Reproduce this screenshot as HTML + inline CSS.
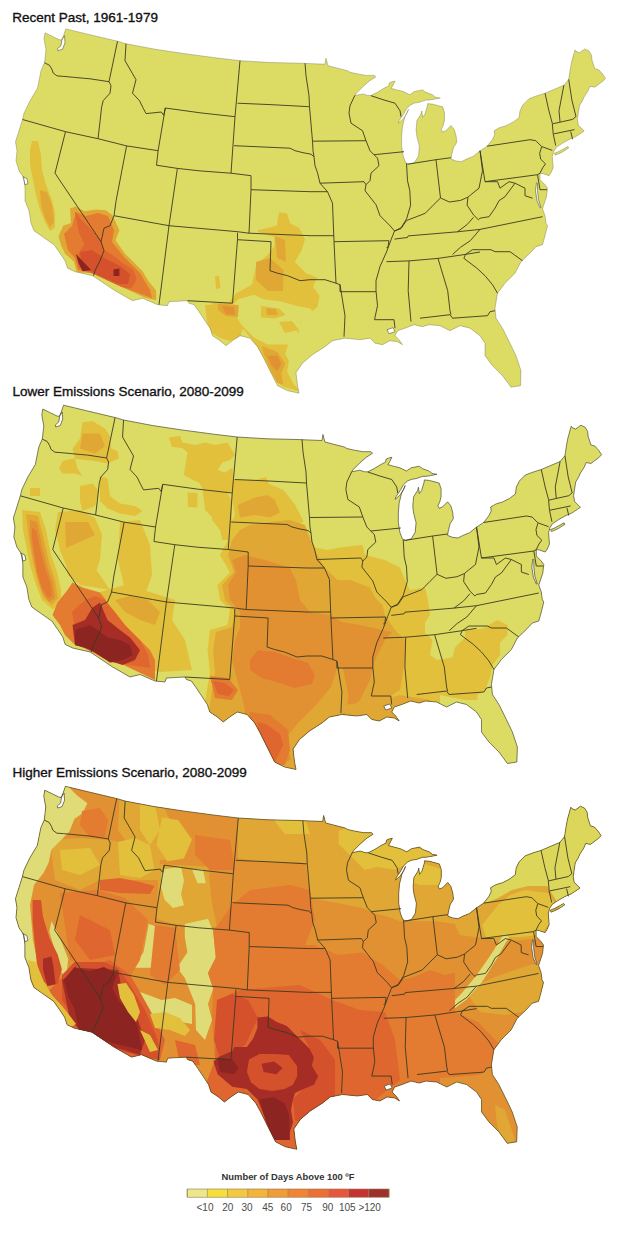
<!DOCTYPE html>
<html><head><meta charset="utf-8"><style>
html,body{margin:0;padding:0;background:#fff;}
body{width:620px;height:1239px;overflow:hidden;position:relative;}
svg{position:absolute;left:0;top:0;}
.t{font-family:"Liberation Sans",sans-serif;font-size:13.5px;fill:#111;stroke:#111;stroke-width:0.35px;}
.l{font-family:"Liberation Sans",sans-serif;font-size:10px;fill:#4a4a4a;}
</style></head><body>
<svg width="620" height="1239" viewBox="0 0 620 1239">
<defs><clipPath id="clip0"><path transform="translate(0,0.7)" d="M45,32.1 52,35.5 59,38.9 61.5,39.4 63.5,35 65.8,28.2 90,34 117.5,40.5 126,43 155,48.5 185,53 215,57 240,60 270,61.8 300,62.5 325,63.5 326,57.5 328,65 347.5,70 350,71.5 356.5,73 366,74.7 374.2,74.7 375.8,76.3 369.4,80.3 362.9,86 356.5,92.4 354.8,94.8 362.9,93.2 367.7,94.8 371,94.8 377.4,91.6 383.9,87.6 388.7,85.2 389.5,82 392,81 395.2,80.3 392.7,85.2 391.1,87.6 396.8,89.2 403.2,90.8 409.7,94 414.5,90.8 422.6,89.2 425.8,91.6 432.3,94 435.5,96.5 440.3,97.3 433.9,98.6 429,99.4 425.8,99.4 419.4,101.6 414.5,102.4 410.5,104.2 406.5,108 404,112.6 399.2,119.8 398.4,122.3 403.2,118.2 407.3,111.8 408.5,108.5 404.8,116.6 402.4,126.3 401.6,136 401.6,145.6 403.2,155.3 405.6,161.8 408.9,163.4 414.5,161.8 418.5,155.3 419.4,145.6 416.9,136 416.1,129.5 416.9,119.8 421,113.4 421.8,110.2 422.6,116.6 425,113.4 427.4,105.3 427.7,102.9 432.9,103.5 442.6,106.1 444.5,111.9 444.5,119.7 443.2,124.8 441.3,128.7 442.6,131.3 445.8,130 451,124.8 454.2,128.7 456.1,135.2 456.8,141.6 453.5,146.8 451.6,154.5 451,158.4 456.1,160.3 461.3,161 466.5,158.4 472.9,155.8 479.4,150.6 487.1,145.5 492.3,139 494.8,133.9 494.2,130 498.7,127.4 500,126.8 506,125 513,121.5 519,117 520,110 523,104 529,98 537,95 545,92.5 563.9,84.5 568.7,78.7 570.2,69 571.6,61.3 575,49.2 576,50.6 579.4,52.1 584.7,48.2 589,50.2 591.5,54.5 592,59.4 593.9,65.2 594.8,68 598.7,69 602.6,73.4 605.5,77.7 602.6,80.7 598.7,83.6 594.8,86.5 590,85.5 588,90.3 584.2,96.1 582.5,100 579.5,105 578.4,111.9 577.4,118.7 578.4,124.5 582.3,128.4 584.2,130.3 581.3,132.3 578.4,134.2 575.5,136.1 568.7,139 561.9,142.9 556.1,146.8 553.7,150.7 552.3,155.5 552.7,161.3 553.2,167 551,172 549,175 543,173 540,172.5 540,179 545,184 547.5,187.5 546.5,196 543.5,205 542.5,208 545,215 546,222.5 547.5,225 545,235 542.5,244 536,246 530,252.5 521,261 515,272.5 505,282.5 497.5,292.5 495,307.5 496,317.5 502.5,327.5 510,342.5 516,355 521,370 520.5,385 511,386.5 502.5,375 492.5,365 485,355 485,342.5 480,335 470,327.5 460,325 450,330 440,325 429,324 422.5,326 414,324 405,327.5 397.5,330 395,335 399,339 402.5,344 397.5,341 390,340 382.5,344 375,342.5 370,337.5 360,339 345,337.5 332.5,340 325,346 312.5,354 302.5,362.5 296,372 297.5,385 299,392.5 287.5,390 277.5,385 270,370 262.5,355 257.5,346 250,337.5 240,335 232.5,340 226,345 220,340 212.5,335 210,327.5 205,320 199,311 194,304 189,302.5 187.5,300 169,301 167.5,305 157.5,304 142.5,297.5 132.5,300 115,290 100,280 92.5,275 75,271 67.5,267.5 65,260 60,252.5 54,244 42.5,236 34,230 31,222.5 29,210 25,200 25,187.5 24,177.5 19,170 16,160 17,150 15.5,141 19,130 22.5,118.8 24,112.5 30,100 37.5,87.5 41,70 44.5,62 46,49 44,38ZM554.2,152.6 559,150.7 567.8,145.8 568.7,147.3 562,151.6 555.2,154.5Z"/></clipPath>
<clipPath id="clip1"><path transform="translate(-2.07,377.0) scale(0.997,1)" d="M45,32.1 52,35.5 59,38.9 61.5,39.4 63.5,35 65.8,28.2 90,34 117.5,40.5 126,43 155,48.5 185,53 215,57 240,60 270,61.8 300,62.5 325,63.5 326,57.5 328,65 347.5,70 350,71.5 356.5,73 366,74.7 374.2,74.7 375.8,76.3 369.4,80.3 362.9,86 356.5,92.4 354.8,94.8 362.9,93.2 367.7,94.8 371,94.8 377.4,91.6 383.9,87.6 388.7,85.2 389.5,82 392,81 395.2,80.3 392.7,85.2 391.1,87.6 396.8,89.2 403.2,90.8 409.7,94 414.5,90.8 422.6,89.2 425.8,91.6 432.3,94 435.5,96.5 440.3,97.3 433.9,98.6 429,99.4 425.8,99.4 419.4,101.6 414.5,102.4 410.5,104.2 406.5,108 404,112.6 399.2,119.8 398.4,122.3 403.2,118.2 407.3,111.8 408.5,108.5 404.8,116.6 402.4,126.3 401.6,136 401.6,145.6 403.2,155.3 405.6,161.8 408.9,163.4 414.5,161.8 418.5,155.3 419.4,145.6 416.9,136 416.1,129.5 416.9,119.8 421,113.4 421.8,110.2 422.6,116.6 425,113.4 427.4,105.3 427.7,102.9 432.9,103.5 442.6,106.1 444.5,111.9 444.5,119.7 443.2,124.8 441.3,128.7 442.6,131.3 445.8,130 451,124.8 454.2,128.7 456.1,135.2 456.8,141.6 453.5,146.8 451.6,154.5 451,158.4 456.1,160.3 461.3,161 466.5,158.4 472.9,155.8 479.4,150.6 487.1,145.5 492.3,139 494.8,133.9 494.2,130 498.7,127.4 500,126.8 506,125 513,121.5 519,117 520,110 523,104 529,98 537,95 545,92.5 563.9,84.5 568.7,78.7 570.2,69 571.6,61.3 575,49.2 576,50.6 579.4,52.1 584.7,48.2 589,50.2 591.5,54.5 592,59.4 593.9,65.2 594.8,68 598.7,69 602.6,73.4 605.5,77.7 602.6,80.7 598.7,83.6 594.8,86.5 590,85.5 588,90.3 584.2,96.1 582.5,100 579.5,105 578.4,111.9 577.4,118.7 578.4,124.5 582.3,128.4 584.2,130.3 581.3,132.3 578.4,134.2 575.5,136.1 568.7,139 561.9,142.9 556.1,146.8 553.7,150.7 552.3,155.5 552.7,161.3 553.2,167 551,172 549,175 543,173 540,172.5 540,179 545,184 547.5,187.5 546.5,196 543.5,205 542.5,208 545,215 546,222.5 547.5,225 545,235 542.5,244 536,246 530,252.5 521,261 515,272.5 505,282.5 497.5,292.5 495,307.5 496,317.5 502.5,327.5 510,342.5 516,355 521,370 520.5,385 511,386.5 502.5,375 492.5,365 485,355 485,342.5 480,335 470,327.5 460,325 450,330 440,325 429,324 422.5,326 414,324 405,327.5 397.5,330 395,335 399,339 402.5,344 397.5,341 390,340 382.5,344 375,342.5 370,337.5 360,339 345,337.5 332.5,340 325,346 312.5,354 302.5,362.5 296,372 297.5,385 299,392.5 287.5,390 277.5,385 270,370 262.5,355 257.5,346 250,337.5 240,335 232.5,340 226,345 220,340 212.5,335 210,327.5 205,320 199,311 194,304 189,302.5 187.5,300 169,301 167.5,305 157.5,304 142.5,297.5 132.5,300 115,290 100,280 92.5,275 75,271 67.5,267.5 65,260 60,252.5 54,244 42.5,236 34,230 31,222.5 29,210 25,200 25,187.5 24,177.5 19,170 16,160 17,150 15.5,141 19,130 22.5,118.8 24,112.5 30,100 37.5,87.5 41,70 44.5,62 46,49 44,38ZM554.2,152.6 559,150.7 567.8,145.8 568.7,147.3 562,151.6 555.2,154.5Z"/></clipPath>
<clipPath id="clip2"><path transform="translate(0.08,758.2) scale(0.9926,0.9965)" d="M45,32.1 52,35.5 59,38.9 61.5,39.4 63.5,35 65.8,28.2 90,34 117.5,40.5 126,43 155,48.5 185,53 215,57 240,60 270,61.8 300,62.5 325,63.5 326,57.5 328,65 347.5,70 350,71.5 356.5,73 366,74.7 374.2,74.7 375.8,76.3 369.4,80.3 362.9,86 356.5,92.4 354.8,94.8 362.9,93.2 367.7,94.8 371,94.8 377.4,91.6 383.9,87.6 388.7,85.2 389.5,82 392,81 395.2,80.3 392.7,85.2 391.1,87.6 396.8,89.2 403.2,90.8 409.7,94 414.5,90.8 422.6,89.2 425.8,91.6 432.3,94 435.5,96.5 440.3,97.3 433.9,98.6 429,99.4 425.8,99.4 419.4,101.6 414.5,102.4 410.5,104.2 406.5,108 404,112.6 399.2,119.8 398.4,122.3 403.2,118.2 407.3,111.8 408.5,108.5 404.8,116.6 402.4,126.3 401.6,136 401.6,145.6 403.2,155.3 405.6,161.8 408.9,163.4 414.5,161.8 418.5,155.3 419.4,145.6 416.9,136 416.1,129.5 416.9,119.8 421,113.4 421.8,110.2 422.6,116.6 425,113.4 427.4,105.3 427.7,102.9 432.9,103.5 442.6,106.1 444.5,111.9 444.5,119.7 443.2,124.8 441.3,128.7 442.6,131.3 445.8,130 451,124.8 454.2,128.7 456.1,135.2 456.8,141.6 453.5,146.8 451.6,154.5 451,158.4 456.1,160.3 461.3,161 466.5,158.4 472.9,155.8 479.4,150.6 487.1,145.5 492.3,139 494.8,133.9 494.2,130 498.7,127.4 500,126.8 506,125 513,121.5 519,117 520,110 523,104 529,98 537,95 545,92.5 563.9,84.5 568.7,78.7 570.2,69 571.6,61.3 575,49.2 576,50.6 579.4,52.1 584.7,48.2 589,50.2 591.5,54.5 592,59.4 593.9,65.2 594.8,68 598.7,69 602.6,73.4 605.5,77.7 602.6,80.7 598.7,83.6 594.8,86.5 590,85.5 588,90.3 584.2,96.1 582.5,100 579.5,105 578.4,111.9 577.4,118.7 578.4,124.5 582.3,128.4 584.2,130.3 581.3,132.3 578.4,134.2 575.5,136.1 568.7,139 561.9,142.9 556.1,146.8 553.7,150.7 552.3,155.5 552.7,161.3 553.2,167 551,172 549,175 543,173 540,172.5 540,179 545,184 547.5,187.5 546.5,196 543.5,205 542.5,208 545,215 546,222.5 547.5,225 545,235 542.5,244 536,246 530,252.5 521,261 515,272.5 505,282.5 497.5,292.5 495,307.5 496,317.5 502.5,327.5 510,342.5 516,355 521,370 520.5,385 511,386.5 502.5,375 492.5,365 485,355 485,342.5 480,335 470,327.5 460,325 450,330 440,325 429,324 422.5,326 414,324 405,327.5 397.5,330 395,335 399,339 402.5,344 397.5,341 390,340 382.5,344 375,342.5 370,337.5 360,339 345,337.5 332.5,340 325,346 312.5,354 302.5,362.5 296,372 297.5,385 299,392.5 287.5,390 277.5,385 270,370 262.5,355 257.5,346 250,337.5 240,335 232.5,340 226,345 220,340 212.5,335 210,327.5 205,320 199,311 194,304 189,302.5 187.5,300 169,301 167.5,305 157.5,304 142.5,297.5 132.5,300 115,290 100,280 92.5,275 75,271 67.5,267.5 65,260 60,252.5 54,244 42.5,236 34,230 31,222.5 29,210 25,200 25,187.5 24,177.5 19,170 16,160 17,150 15.5,141 19,130 22.5,118.8 24,112.5 30,100 37.5,87.5 41,70 44.5,62 46,49 44,38ZM554.2,152.6 559,150.7 567.8,145.8 568.7,147.3 562,151.6 555.2,154.5Z"/></clipPath></defs>
<g transform="translate(0,0.7)"><path fill="#dcdb64" d="M45,32.1 52,35.5 59,38.9 61.5,39.4 63.5,35 65.8,28.2 90,34 117.5,40.5 126,43 155,48.5 185,53 215,57 240,60 270,61.8 300,62.5 325,63.5 326,57.5 328,65 347.5,70 350,71.5 356.5,73 366,74.7 374.2,74.7 375.8,76.3 369.4,80.3 362.9,86 356.5,92.4 354.8,94.8 362.9,93.2 367.7,94.8 371,94.8 377.4,91.6 383.9,87.6 388.7,85.2 389.5,82 392,81 395.2,80.3 392.7,85.2 391.1,87.6 396.8,89.2 403.2,90.8 409.7,94 414.5,90.8 422.6,89.2 425.8,91.6 432.3,94 435.5,96.5 440.3,97.3 433.9,98.6 429,99.4 425.8,99.4 419.4,101.6 414.5,102.4 410.5,104.2 406.5,108 404,112.6 399.2,119.8 398.4,122.3 403.2,118.2 407.3,111.8 408.5,108.5 404.8,116.6 402.4,126.3 401.6,136 401.6,145.6 403.2,155.3 405.6,161.8 408.9,163.4 414.5,161.8 418.5,155.3 419.4,145.6 416.9,136 416.1,129.5 416.9,119.8 421,113.4 421.8,110.2 422.6,116.6 425,113.4 427.4,105.3 427.7,102.9 432.9,103.5 442.6,106.1 444.5,111.9 444.5,119.7 443.2,124.8 441.3,128.7 442.6,131.3 445.8,130 451,124.8 454.2,128.7 456.1,135.2 456.8,141.6 453.5,146.8 451.6,154.5 451,158.4 456.1,160.3 461.3,161 466.5,158.4 472.9,155.8 479.4,150.6 487.1,145.5 492.3,139 494.8,133.9 494.2,130 498.7,127.4 500,126.8 506,125 513,121.5 519,117 520,110 523,104 529,98 537,95 545,92.5 563.9,84.5 568.7,78.7 570.2,69 571.6,61.3 575,49.2 576,50.6 579.4,52.1 584.7,48.2 589,50.2 591.5,54.5 592,59.4 593.9,65.2 594.8,68 598.7,69 602.6,73.4 605.5,77.7 602.6,80.7 598.7,83.6 594.8,86.5 590,85.5 588,90.3 584.2,96.1 582.5,100 579.5,105 578.4,111.9 577.4,118.7 578.4,124.5 582.3,128.4 584.2,130.3 581.3,132.3 578.4,134.2 575.5,136.1 568.7,139 561.9,142.9 556.1,146.8 553.7,150.7 552.3,155.5 552.7,161.3 553.2,167 551,172 549,175 543,173 540,172.5 540,179 545,184 547.5,187.5 546.5,196 543.5,205 542.5,208 545,215 546,222.5 547.5,225 545,235 542.5,244 536,246 530,252.5 521,261 515,272.5 505,282.5 497.5,292.5 495,307.5 496,317.5 502.5,327.5 510,342.5 516,355 521,370 520.5,385 511,386.5 502.5,375 492.5,365 485,355 485,342.5 480,335 470,327.5 460,325 450,330 440,325 429,324 422.5,326 414,324 405,327.5 397.5,330 395,335 399,339 402.5,344 397.5,341 390,340 382.5,344 375,342.5 370,337.5 360,339 345,337.5 332.5,340 325,346 312.5,354 302.5,362.5 296,372 297.5,385 299,392.5 287.5,390 277.5,385 270,370 262.5,355 257.5,346 250,337.5 240,335 232.5,340 226,345 220,340 212.5,335 210,327.5 205,320 199,311 194,304 189,302.5 187.5,300 169,301 167.5,305 157.5,304 142.5,297.5 132.5,300 115,290 100,280 92.5,275 75,271 67.5,267.5 65,260 60,252.5 54,244 42.5,236 34,230 31,222.5 29,210 25,200 25,187.5 24,177.5 19,170 16,160 17,150 15.5,141 19,130 22.5,118.8 24,112.5 30,100 37.5,87.5 41,70 44.5,62 46,49 44,38ZM554.2,152.6 559,150.7 567.8,145.8 568.7,147.3 562,151.6 555.2,154.5Z"/></g>
<g clip-path="url(#clip0)">
<path fill="#e3c03c" d="M32,141 38,141 41,155 42,170 46,185 52,200 55,212 55,228 50,231 45,222 40,210 36,195 33,180 30,165 30,150ZM279,212.3 287,213.4 290.3,223.5 299.3,228 305,239.3 301.6,250.6 294.8,261.9 306.1,273.2 317.4,277.7 312.9,286.7 319.6,295.8 317.4,307.1 306.1,316.1 297,325.1 299.3,331.9 290.3,336.4 285.2,353.9 289,361.6 287.1,371.3 292.9,382.9 299.7,391.6 283.2,386.8 275.5,381 267.7,367.4 260,351.9 252.3,340.3 244.5,330.6 236,322 226,318 220,314 236.1,293.5 251.9,284.5 256.4,264.2 267.7,255.1 274.5,246.1 274.5,237.1 258.7,232.6 257.6,230.3 276.7,225.8ZM215,276 219,276 220.5,288 216,289ZM212,303 240,303 244,318 238,325 226,322 214,314Z"/>
<path fill="#dcdb64" d="M238.4,299.3 254.2,294.8 263.2,299.3 281.3,301.6 297,306 310.6,308.4 312.9,312.9 306,317.4 299.3,322 297,335.4 294.8,344.5 285.8,344.5 267.7,344.5 254.2,337.7 242.9,326.4 233.9,315.1 231.6,306Z"/>
<path fill="#e3c03c" d="M261,306 279,308.4 285.8,315 274.5,318.5 261,317.4ZM205,305 225,304 236,316 243,328 240,337 230,341 220,338 212,333 207,322ZM279,322 292,321 299,330 285,333Z"/>
<path fill="#e0a735" d="M40,190 47,192 52,205 54,222 50,228 45,218 41,205ZM256,262 270,258 283.5,270 283,291 268,291 256,280ZM275,236 285,240 286,262 277,258ZM262,346 277.4,351.9 285.2,363.5 281.3,373.2 283.2,384.8 277.4,382.9 269.7,367.4 263.9,353.9ZM217.4,303.5 238.7,305 238,317 226,316 218,310ZM266,308 276,309 278,315 267,315Z"/>
<path fill="#e29132" d="M267.7,355.8 277.4,355.8 281.3,363.5 277.4,371.3 271.6,365.5ZM222,306 234,307 235,315 226,314Z"/>
<path fill="#e0a735" d="M58.4,236.4 63.2,225.8 71,222.9 70,208.4 75.8,206.4 84.5,211.3 96.1,209.4 105.8,210.3 112.6,215.2 119.4,230.6 115.5,240.3 125.2,253.9 132.9,261.6 142.6,271.3 148.4,281 156.1,290.6 156.1,300.3 144.5,297.4 121.3,286.8 92.3,273.2 76.8,272.3 73.9,261.6 65.2,253.9 61.3,246.1Z"/>
<path fill="#e37b30" d="M64,234 72,226 76,212 86,216 98,213 108,216 114,230 112,242 124,257 140,273 150,290 152,298 121.3,286.8 92.3,273.2 78,270 75,258 68,250Z"/>
<path fill="#df662e" d="M74.8,211.3 80.6,219 90.3,228.7 100,238.4 103.9,250 113.5,255.8 123.2,263.5 132.9,269.4 136.8,279 131,288.7 121.3,286.8 94.2,274.2 78.7,267.4 76.8,255.8 84.5,244.2 78.7,232.6 76.8,221Z"/>
<path fill="#d4512b" d="M80,252 92,250 104,258 120,266 130,274 128,284 118,284 96,274 82,266Z"/>
<path fill="#8c2421" d="M75.8,253.9 91.3,270.3 82.6,271.3 78.7,263.5ZM113.5,269.4 119.4,268.4 119.4,276.1 113.5,276.1Z"/>
</g>
<g transform="translate(0,0.7)">
<path fill="#fff" stroke="#3a3a22" stroke-width="0.7" stroke-opacity="0.7" d="M62,39 64.5,35 65,42 62.5,48.5 58,50 57.5,48 61,45ZM536.5,182 535.5,190 537,200 540,207 541,207 538.5,199 537.5,190 537.5,183ZM387,329 393,327 395,331 389,333ZM23,176 27,178 28,183 25,184Z"/>
<path fill="none" stroke="#3a3a22" stroke-width="0.9" stroke-linejoin="round" d="M44.5,62.1 49.4,64.5 51.8,68.4 53.2,72.3 57.1,75.2 63.9,75.7 73.5,76.6 84.2,77.6 90,78.1 109,81M117.5,40.5 109,81M109,81 111,85 110,92.5 103.2,100 101.6,106.5 100,121 98,138M22.5,118.8 65.5,131 98,138 126.6,145.2 158.1,150M126,43 125,60 136,79 132.5,92.5 139.5,100 142.7,106.5 146,112.9 161.3,111.3 163.7,114.5 165.3,107.3M165.3,107.3 200,112.1 235,116M165.3,107.3 158.1,150 156.5,164.5 177.4,167.7 200,170.2 231,172.5 251,175M240,60 235,116 231,172.5M237.5,102.5 272,104 309,106M234,145 290,147.5 295,150 303,152 311,153.5 314,156M251,175 251,189 249,232.5M251,189 310,191 327.5,191M169,225 237.5,231 249,232.5 310,235 334,235M237.5,232 237.5,239 271,241 270,270 277.5,272.5 287.5,275 300,280 310,279 325,279 336,282.5M237.5,239 232.5,302.5 187.5,300M116.1,200 114,215 155,222.5 169,225M101,241 104,227.5 110,225 114,215M177.4,167.7 169,225M169,225 159,304M65.5,131 55,172.5 101,241M126.6,145.2 116.1,200M101,241 104,250 100,260 95,270 93.5,275M305,62.5 306,75 309,95 309.5,106 312.5,140.5 313,150 314,156M312.5,140.5 366,140M314,156 315,165 317.5,172 320,182.5 327.5,191 332.5,202.5 334,241M320,182.5 364,181 366,184M354.8,94.8 350,105 349,112.5 351,122.5 362.5,130 366,140M366,140 370,150 377.5,157.5 379,165 371,172.5 370,180 366,184 365,190 376,204 380,215 390,225 394.5,230.3 391.3,238.4 386.5,251.3 380,265.8 376,280 376,290 377.5,305 374.5,319 394,319 395,327.5M334,241 388.9,240 388,246.5 386.5,247M334,241 336,282.5 340,284 340,291M340,284 345,315 344,336M340,291 376,291M371,95 383,99 395,102.5 400,110 401,116M374,154 404,151M406.5,162.5 407.5,180 409.8,190 410.6,204.5 406.6,218.2 401,227.1 394.5,230.3M407.5,163.5 436,159 451,157M436,159 440.5,197.3M394.5,230.3 401,227.9 406.6,219.8 417.1,215.8 425.2,212.6 433.2,204.5 440.5,197.3 449.4,201.3 460.6,199.7 467.9,196.5 471.9,193.2 479,187.5 482.5,170 480,150M480,150 485,181M467.9,196.5 467.1,204.5 473.5,214.2 478.4,219M473.5,216.6 467.1,223.9 457.4,231.1M394.5,238.4 407.4,236.8 408.2,235.2 457.4,231.1 480,228.7 542.5,216M386.5,261 409,260.2 438,257.7 465.5,253.7 480,251.3M480,228.7 470.3,240 460.6,246.5 452.6,253.7M409,260.2 408.2,290 411,321M438,257.7 447.7,290 450,310 451,314M420,317.5 450,314 452.5,317.5 487.5,315 490,311 495,310M465.5,253.7 463.9,257.7 476.8,267.4 485,275 492.5,284 497.5,292.5M465.5,253.7 472.5,249 491,249 495,251 510,251 522.5,260M485,181 497.5,181 500,187.5 509,181 515,182.5 505,196 499,200 495,207.5 489,216 480,217.5 478.4,219M515,182.5 525,187.5 525,195 532.5,197.5M485,181 537.5,174 540,172.5M537.5,174 540,189 547,189M487.1,145.5 530,139 535.8,140 541.6,145.8 552.3,149.7M541.6,146.3 539.7,152.6 540.6,158.4 545.5,163.2 542.6,167.1 540,172.5M545,92.5 548.9,110 552.3,122.6 553.2,133.2 555.7,144.8M563.9,84.5 559,110 560,121.1M552.7,123.1 572.6,118.7 576,115.8M553.7,133.2 574.5,128.9M570.7,130.8 572.6,138.6M568.7,78.7 572,100 576,115.8"/>
<path fill="none" stroke="#3a3a22" stroke-width="0.35" stroke-opacity="0.8" d="M45,32.1 52,35.5 59,38.9 61.5,39.4 63.5,35 65.8,28.2 90,34 117.5,40.5 126,43 155,48.5 185,53 215,57 240,60 270,61.8 300,62.5 325,63.5 326,57.5 328,65 347.5,70 350,71.5 356.5,73 366,74.7 374.2,74.7 375.8,76.3 369.4,80.3 362.9,86 356.5,92.4 354.8,94.8 362.9,93.2 367.7,94.8 371,94.8 377.4,91.6 383.9,87.6 388.7,85.2 389.5,82 392,81 395.2,80.3 392.7,85.2 391.1,87.6 396.8,89.2 403.2,90.8 409.7,94 414.5,90.8 422.6,89.2 425.8,91.6 432.3,94 435.5,96.5 440.3,97.3 433.9,98.6 429,99.4 425.8,99.4 419.4,101.6 414.5,102.4 410.5,104.2 406.5,108 404,112.6 399.2,119.8 398.4,122.3 403.2,118.2 407.3,111.8 408.5,108.5 404.8,116.6 402.4,126.3 401.6,136 401.6,145.6 403.2,155.3 405.6,161.8 408.9,163.4 414.5,161.8 418.5,155.3 419.4,145.6 416.9,136 416.1,129.5 416.9,119.8 421,113.4 421.8,110.2 422.6,116.6 425,113.4 427.4,105.3 427.7,102.9 432.9,103.5 442.6,106.1 444.5,111.9 444.5,119.7 443.2,124.8 441.3,128.7 442.6,131.3 445.8,130 451,124.8 454.2,128.7 456.1,135.2 456.8,141.6 453.5,146.8 451.6,154.5 451,158.4 456.1,160.3 461.3,161 466.5,158.4 472.9,155.8 479.4,150.6 487.1,145.5 492.3,139 494.8,133.9 494.2,130 498.7,127.4 500,126.8 506,125 513,121.5 519,117 520,110 523,104 529,98 537,95 545,92.5 563.9,84.5 568.7,78.7 570.2,69 571.6,61.3 575,49.2 576,50.6 579.4,52.1 584.7,48.2 589,50.2 591.5,54.5 592,59.4 593.9,65.2 594.8,68 598.7,69 602.6,73.4 605.5,77.7 602.6,80.7 598.7,83.6 594.8,86.5 590,85.5 588,90.3 584.2,96.1 582.5,100 579.5,105 578.4,111.9 577.4,118.7 578.4,124.5 582.3,128.4 584.2,130.3 581.3,132.3 578.4,134.2 575.5,136.1 568.7,139 561.9,142.9 556.1,146.8 553.7,150.7 552.3,155.5 552.7,161.3 553.2,167 551,172 549,175 543,173 540,172.5 540,179 545,184 547.5,187.5 546.5,196 543.5,205 542.5,208 545,215 546,222.5 547.5,225 545,235 542.5,244 536,246 530,252.5 521,261 515,272.5 505,282.5 497.5,292.5 495,307.5 496,317.5 502.5,327.5 510,342.5 516,355 521,370 520.5,385 511,386.5 502.5,375 492.5,365 485,355 485,342.5 480,335 470,327.5 460,325 450,330 440,325 429,324 422.5,326 414,324 405,327.5 397.5,330 395,335 399,339 402.5,344 397.5,341 390,340 382.5,344 375,342.5 370,337.5 360,339 345,337.5 332.5,340 325,346 312.5,354 302.5,362.5 296,372 297.5,385 299,392.5 287.5,390 277.5,385 270,370 262.5,355 257.5,346 250,337.5 240,335 232.5,340 226,345 220,340 212.5,335 210,327.5 205,320 199,311 194,304 189,302.5 187.5,300 169,301 167.5,305 157.5,304 142.5,297.5 132.5,300 115,290 100,280 92.5,275 75,271 67.5,267.5 65,260 60,252.5 54,244 42.5,236 34,230 31,222.5 29,210 25,200 25,187.5 24,177.5 19,170 16,160 17,150 15.5,141 19,130 22.5,118.8 24,112.5 30,100 37.5,87.5 41,70 44.5,62 46,49 44,38ZM554.2,152.6 559,150.7 567.8,145.8 568.7,147.3 562,151.6 555.2,154.5Z"/>
</g>
<g transform="translate(-2.07,377.0) scale(0.997,1)"><path fill="#dcdb64" d="M45,32.1 52,35.5 59,38.9 61.5,39.4 63.5,35 65.8,28.2 90,34 117.5,40.5 126,43 155,48.5 185,53 215,57 240,60 270,61.8 300,62.5 325,63.5 326,57.5 328,65 347.5,70 350,71.5 356.5,73 366,74.7 374.2,74.7 375.8,76.3 369.4,80.3 362.9,86 356.5,92.4 354.8,94.8 362.9,93.2 367.7,94.8 371,94.8 377.4,91.6 383.9,87.6 388.7,85.2 389.5,82 392,81 395.2,80.3 392.7,85.2 391.1,87.6 396.8,89.2 403.2,90.8 409.7,94 414.5,90.8 422.6,89.2 425.8,91.6 432.3,94 435.5,96.5 440.3,97.3 433.9,98.6 429,99.4 425.8,99.4 419.4,101.6 414.5,102.4 410.5,104.2 406.5,108 404,112.6 399.2,119.8 398.4,122.3 403.2,118.2 407.3,111.8 408.5,108.5 404.8,116.6 402.4,126.3 401.6,136 401.6,145.6 403.2,155.3 405.6,161.8 408.9,163.4 414.5,161.8 418.5,155.3 419.4,145.6 416.9,136 416.1,129.5 416.9,119.8 421,113.4 421.8,110.2 422.6,116.6 425,113.4 427.4,105.3 427.7,102.9 432.9,103.5 442.6,106.1 444.5,111.9 444.5,119.7 443.2,124.8 441.3,128.7 442.6,131.3 445.8,130 451,124.8 454.2,128.7 456.1,135.2 456.8,141.6 453.5,146.8 451.6,154.5 451,158.4 456.1,160.3 461.3,161 466.5,158.4 472.9,155.8 479.4,150.6 487.1,145.5 492.3,139 494.8,133.9 494.2,130 498.7,127.4 500,126.8 506,125 513,121.5 519,117 520,110 523,104 529,98 537,95 545,92.5 563.9,84.5 568.7,78.7 570.2,69 571.6,61.3 575,49.2 576,50.6 579.4,52.1 584.7,48.2 589,50.2 591.5,54.5 592,59.4 593.9,65.2 594.8,68 598.7,69 602.6,73.4 605.5,77.7 602.6,80.7 598.7,83.6 594.8,86.5 590,85.5 588,90.3 584.2,96.1 582.5,100 579.5,105 578.4,111.9 577.4,118.7 578.4,124.5 582.3,128.4 584.2,130.3 581.3,132.3 578.4,134.2 575.5,136.1 568.7,139 561.9,142.9 556.1,146.8 553.7,150.7 552.3,155.5 552.7,161.3 553.2,167 551,172 549,175 543,173 540,172.5 540,179 545,184 547.5,187.5 546.5,196 543.5,205 542.5,208 545,215 546,222.5 547.5,225 545,235 542.5,244 536,246 530,252.5 521,261 515,272.5 505,282.5 497.5,292.5 495,307.5 496,317.5 502.5,327.5 510,342.5 516,355 521,370 520.5,385 511,386.5 502.5,375 492.5,365 485,355 485,342.5 480,335 470,327.5 460,325 450,330 440,325 429,324 422.5,326 414,324 405,327.5 397.5,330 395,335 399,339 402.5,344 397.5,341 390,340 382.5,344 375,342.5 370,337.5 360,339 345,337.5 332.5,340 325,346 312.5,354 302.5,362.5 296,372 297.5,385 299,392.5 287.5,390 277.5,385 270,370 262.5,355 257.5,346 250,337.5 240,335 232.5,340 226,345 220,340 212.5,335 210,327.5 205,320 199,311 194,304 189,302.5 187.5,300 169,301 167.5,305 157.5,304 142.5,297.5 132.5,300 115,290 100,280 92.5,275 75,271 67.5,267.5 65,260 60,252.5 54,244 42.5,236 34,230 31,222.5 29,210 25,200 25,187.5 24,177.5 19,170 16,160 17,150 15.5,141 19,130 22.5,118.8 24,112.5 30,100 37.5,87.5 41,70 44.5,62 46,49 44,38ZM554.2,152.6 559,150.7 567.8,145.8 568.7,147.3 562,151.6 555.2,154.5Z"/></g>
<g clip-path="url(#clip1)">
<path fill="#e3c03c" d="M232.5,480 255,480 266,477 269,484 283.5,490 295,504.5 303.7,521.9 300,523 307.5,530 315,547.5 327.5,550 340,547.5 362.5,545 365,555 385,560 400,567.5 405,580 410,590 425,587.5 427.5,597.5 430,615 425,622.5 425,632.5 432.5,640 430,655 437.5,660 452.5,657.5 455,647.5 465,637.5 465,630 482.5,628.8 497.5,620 507.5,625 507.5,635 500,642.5 500,655 492.5,665 490,677.5 485,690 477.5,695 477.5,700 465,700 452.5,697.5 440,695 440,730 300,790 250,780 200,730 210,672.5 207.5,650 210,630 227.5,625 230,610 220,600 217.5,585 230,572.5 220,555 228,540 222.5,540 220,530 230,525 235,515 232,500ZM168.8,437.5 180,436 182.5,442.5 195,445 205,442.5 215,445 227.5,442.5 235,455 230,460 222.5,462.5 217.5,470 225,472.5 232.5,467.5 234,490 225,495 215,495 205,492.5 198.8,482.5 192.5,480 183.8,475 187.5,452.5 182,448 172,447ZM187.5,492.5 197.5,493 197.5,507.5 188,507ZM202,486 225,488 231,500 231,516 215,520 205,510ZM82.5,422.2 92.5,421 105,428.5 110,436 111,448.5 117.5,451 119,458.5 107.5,463.5 95,461 85,460 72.5,458.5 62.5,461 59,468.5 62.5,473.5 75,473.5 82.5,476 77.5,468.5 72.5,448.5 80,438.5ZM100,476 107.5,478.5 110,496 120,503.5 135,506 142.5,511 135,516 120,513.5 107.5,508.5 100,501ZM80,486 92.5,483.5 98.8,491 95,506 82.5,511 80,501ZM30,488 40,488 40,496 30,496ZM22,510 40,512 46,530 51,555 57,572 61,590 61,606 52,609 42,600 36,585 30,565 26,545 23,530ZM58,512 80,510 95,518 102,535 100,560 95,575 80,580 68,570 60,550 55,530ZM65,560 85,556 100,575 110,590 80,585 68,575ZM120,522 140,520 150,545 152,575 145,595 125,590 118,560ZM100,592 125,585 150,592 175,600 172,620 185,640 192,670 160,672 130,665 110,640ZM212,505 232,505 232,525 220,530 212,520Z"/>
<path fill="#e0a735" d="M237.5,505 255,497.5 267.5,495 275,500 280,512.5 270,517.5 255,515 240,517.5ZM290,520 305,525 312,545 325,568 337.5,580 350,580 370,587.5 375,597.5 382.5,605 385,615 395,630 405,640 405,660 400,690 385,700 380,760 250,780 205,735 215,672 213,650 216,632 232,627 235,610 225,600 222,585 234,572 228,555 232,540 240,530 250,525 270,522ZM82.5,433.5 100,433.5 105,446 95,453.5 80,448.5ZM65,522 88,522 95,535 80,542 66,548ZM26,514 38,516 44,540 49,562 55,580 58,598 52,605 44,598 38,582 33,562 29,540ZM115,600 130,596 148,600 160,612 155,625 140,620 125,612Z"/>
<path fill="#e29132" d="M232,560 245,555 265,560 290,568 296,580 300,600 310,612 330,615 342,622 360,625 392,632 385,640 375,660 370,680 360,700 340,720 330,740 250,780 240,735 245,710 240,690 232,660 235,640 240,628 240,612 230,600 228,585 236,572ZM30,520 37,522 42,545 47,566 53,583 55,598 49,602 42,592 37,575 33,555 30,535Z"/>
<path fill="#e0a735" d="M345,705 380,700 400,695 430,700 440,730 345,740ZM342.6,666.8 348.4,695.8 346,712 325.2,722 307.8,733.6 299,748 297,768 292,766 290.3,756.8 284.5,739.4 299,722 316.5,704.5 331,687 336.8,669.7Z"/>
<path fill="#e37b30" d="M258,650 275,652 292,658 308,663 315,675 312,684 295,688 280,683 262,678 250,670 250,660ZM250,712 270,715 288,730 290,750 285,765 270,765 258,745 248,725ZM210,676 228,678 238,690 232,700 215,698Z"/>
<path fill="#e37b30" d="M32,528 36,530 40,548 45,568 51,585 52,596 48,598 42,588 37,572 34,552 32,538ZM57.5,602.5 67.5,590 72.5,582.5 82.5,587.5 100,592.5 106,600 112,620 125,632 140,640 150,650 155,660 155,680 92.5,650 75,645 65,635 60,625 52.5,615Z"/>
<path fill="#df662e" d="M257.5,722 266,724 280,734 283,745 278,756 275,762 267,751 258,735ZM213,681 225,683 234,690 229,696 218,694ZM72,612 85,600 95,596 105,600 115,612 125,625 140,640 148,655 150,668 110,662 92,652 78,645Z"/>
<path fill="#a52d25" d="M72.5,625 85,620 92.5,607.5 100,602.5 107.5,620 120,630 130,637.5 140,650 135,660 122.5,665 107.5,660 92.5,650 75,645Z"/>
<path fill="#8c2421" d="M75,630 90,625 97.5,630 107.5,637.5 120,640 130,645 132.5,655 122.5,660 110,662.5 95,652.5 85,647.5 75,645Z"/>
</g>
<g transform="translate(-2.07,377.0) scale(0.997,1)">
<path fill="#fff" stroke="#3a3a22" stroke-width="0.9" stroke-opacity="0.7" d="M62,39 64.5,35 65,42 62.5,48.5 58,50 57.5,48 61,45ZM536.5,182 535.5,190 537,200 540,207 541,207 538.5,199 537.5,190 537.5,183ZM387,329 393,327 395,331 389,333ZM23,176 27,178 28,183 25,184Z"/>
<path fill="none" stroke="#3a3a22" stroke-width="0.9" stroke-linejoin="round" d="M44.5,62.1 49.4,64.5 51.8,68.4 53.2,72.3 57.1,75.2 63.9,75.7 73.5,76.6 84.2,77.6 90,78.1 109,81M117.5,40.5 109,81M109,81 111,85 110,92.5 103.2,100 101.6,106.5 100,121 98,138M22.5,118.8 65.5,131 98,138 126.6,145.2 158.1,150M126,43 125,60 136,79 132.5,92.5 139.5,100 142.7,106.5 146,112.9 161.3,111.3 163.7,114.5 165.3,107.3M165.3,107.3 200,112.1 235,116M165.3,107.3 158.1,150 156.5,164.5 177.4,167.7 200,170.2 231,172.5 251,175M240,60 235,116 231,172.5M237.5,102.5 272,104 309,106M234,145 290,147.5 295,150 303,152 311,153.5 314,156M251,175 251,189 249,232.5M251,189 310,191 327.5,191M169,225 237.5,231 249,232.5 310,235 334,235M237.5,232 237.5,239 271,241 270,270 277.5,272.5 287.5,275 300,280 310,279 325,279 336,282.5M237.5,239 232.5,302.5 187.5,300M116.1,200 114,215 155,222.5 169,225M101,241 104,227.5 110,225 114,215M177.4,167.7 169,225M169,225 159,304M65.5,131 55,172.5 101,241M126.6,145.2 116.1,200M101,241 104,250 100,260 95,270 93.5,275M305,62.5 306,75 309,95 309.5,106 312.5,140.5 313,150 314,156M312.5,140.5 366,140M314,156 315,165 317.5,172 320,182.5 327.5,191 332.5,202.5 334,241M320,182.5 364,181 366,184M354.8,94.8 350,105 349,112.5 351,122.5 362.5,130 366,140M366,140 370,150 377.5,157.5 379,165 371,172.5 370,180 366,184 365,190 376,204 380,215 390,225 394.5,230.3 391.3,238.4 386.5,251.3 380,265.8 376,280 376,290 377.5,305 374.5,319 394,319 395,327.5M334,241 388.9,240 388,246.5 386.5,247M334,241 336,282.5 340,284 340,291M340,284 345,315 344,336M340,291 376,291M371,95 383,99 395,102.5 400,110 401,116M374,154 404,151M406.5,162.5 407.5,180 409.8,190 410.6,204.5 406.6,218.2 401,227.1 394.5,230.3M407.5,163.5 436,159 451,157M436,159 440.5,197.3M394.5,230.3 401,227.9 406.6,219.8 417.1,215.8 425.2,212.6 433.2,204.5 440.5,197.3 449.4,201.3 460.6,199.7 467.9,196.5 471.9,193.2 479,187.5 482.5,170 480,150M480,150 485,181M467.9,196.5 467.1,204.5 473.5,214.2 478.4,219M473.5,216.6 467.1,223.9 457.4,231.1M394.5,238.4 407.4,236.8 408.2,235.2 457.4,231.1 480,228.7 542.5,216M386.5,261 409,260.2 438,257.7 465.5,253.7 480,251.3M480,228.7 470.3,240 460.6,246.5 452.6,253.7M409,260.2 408.2,290 411,321M438,257.7 447.7,290 450,310 451,314M420,317.5 450,314 452.5,317.5 487.5,315 490,311 495,310M465.5,253.7 463.9,257.7 476.8,267.4 485,275 492.5,284 497.5,292.5M465.5,253.7 472.5,249 491,249 495,251 510,251 522.5,260M485,181 497.5,181 500,187.5 509,181 515,182.5 505,196 499,200 495,207.5 489,216 480,217.5 478.4,219M515,182.5 525,187.5 525,195 532.5,197.5M485,181 537.5,174 540,172.5M537.5,174 540,189 547,189M487.1,145.5 530,139 535.8,140 541.6,145.8 552.3,149.7M541.6,146.3 539.7,152.6 540.6,158.4 545.5,163.2 542.6,167.1 540,172.5M545,92.5 548.9,110 552.3,122.6 553.2,133.2 555.7,144.8M563.9,84.5 559,110 560,121.1M552.7,123.1 572.6,118.7 576,115.8M553.7,133.2 574.5,128.9M570.7,130.8 572.6,138.6M568.7,78.7 572,100 576,115.8"/>
<path fill="none" stroke="#3a3a22" stroke-width="0.8" stroke-opacity="0.8" d="M45,32.1 52,35.5 59,38.9 61.5,39.4 63.5,35 65.8,28.2 90,34 117.5,40.5 126,43 155,48.5 185,53 215,57 240,60 270,61.8 300,62.5 325,63.5 326,57.5 328,65 347.5,70 350,71.5 356.5,73 366,74.7 374.2,74.7 375.8,76.3 369.4,80.3 362.9,86 356.5,92.4 354.8,94.8 362.9,93.2 367.7,94.8 371,94.8 377.4,91.6 383.9,87.6 388.7,85.2 389.5,82 392,81 395.2,80.3 392.7,85.2 391.1,87.6 396.8,89.2 403.2,90.8 409.7,94 414.5,90.8 422.6,89.2 425.8,91.6 432.3,94 435.5,96.5 440.3,97.3 433.9,98.6 429,99.4 425.8,99.4 419.4,101.6 414.5,102.4 410.5,104.2 406.5,108 404,112.6 399.2,119.8 398.4,122.3 403.2,118.2 407.3,111.8 408.5,108.5 404.8,116.6 402.4,126.3 401.6,136 401.6,145.6 403.2,155.3 405.6,161.8 408.9,163.4 414.5,161.8 418.5,155.3 419.4,145.6 416.9,136 416.1,129.5 416.9,119.8 421,113.4 421.8,110.2 422.6,116.6 425,113.4 427.4,105.3 427.7,102.9 432.9,103.5 442.6,106.1 444.5,111.9 444.5,119.7 443.2,124.8 441.3,128.7 442.6,131.3 445.8,130 451,124.8 454.2,128.7 456.1,135.2 456.8,141.6 453.5,146.8 451.6,154.5 451,158.4 456.1,160.3 461.3,161 466.5,158.4 472.9,155.8 479.4,150.6 487.1,145.5 492.3,139 494.8,133.9 494.2,130 498.7,127.4 500,126.8 506,125 513,121.5 519,117 520,110 523,104 529,98 537,95 545,92.5 563.9,84.5 568.7,78.7 570.2,69 571.6,61.3 575,49.2 576,50.6 579.4,52.1 584.7,48.2 589,50.2 591.5,54.5 592,59.4 593.9,65.2 594.8,68 598.7,69 602.6,73.4 605.5,77.7 602.6,80.7 598.7,83.6 594.8,86.5 590,85.5 588,90.3 584.2,96.1 582.5,100 579.5,105 578.4,111.9 577.4,118.7 578.4,124.5 582.3,128.4 584.2,130.3 581.3,132.3 578.4,134.2 575.5,136.1 568.7,139 561.9,142.9 556.1,146.8 553.7,150.7 552.3,155.5 552.7,161.3 553.2,167 551,172 549,175 543,173 540,172.5 540,179 545,184 547.5,187.5 546.5,196 543.5,205 542.5,208 545,215 546,222.5 547.5,225 545,235 542.5,244 536,246 530,252.5 521,261 515,272.5 505,282.5 497.5,292.5 495,307.5 496,317.5 502.5,327.5 510,342.5 516,355 521,370 520.5,385 511,386.5 502.5,375 492.5,365 485,355 485,342.5 480,335 470,327.5 460,325 450,330 440,325 429,324 422.5,326 414,324 405,327.5 397.5,330 395,335 399,339 402.5,344 397.5,341 390,340 382.5,344 375,342.5 370,337.5 360,339 345,337.5 332.5,340 325,346 312.5,354 302.5,362.5 296,372 297.5,385 299,392.5 287.5,390 277.5,385 270,370 262.5,355 257.5,346 250,337.5 240,335 232.5,340 226,345 220,340 212.5,335 210,327.5 205,320 199,311 194,304 189,302.5 187.5,300 169,301 167.5,305 157.5,304 142.5,297.5 132.5,300 115,290 100,280 92.5,275 75,271 67.5,267.5 65,260 60,252.5 54,244 42.5,236 34,230 31,222.5 29,210 25,200 25,187.5 24,177.5 19,170 16,160 17,150 15.5,141 19,130 22.5,118.8 24,112.5 30,100 37.5,87.5 41,70 44.5,62 46,49 44,38ZM554.2,152.6 559,150.7 567.8,145.8 568.7,147.3 562,151.6 555.2,154.5Z"/>
</g>
<g transform="translate(0.08,758.2) scale(0.9926,0.9965)"><path fill="#dcdb64" d="M45,32.1 52,35.5 59,38.9 61.5,39.4 63.5,35 65.8,28.2 90,34 117.5,40.5 126,43 155,48.5 185,53 215,57 240,60 270,61.8 300,62.5 325,63.5 326,57.5 328,65 347.5,70 350,71.5 356.5,73 366,74.7 374.2,74.7 375.8,76.3 369.4,80.3 362.9,86 356.5,92.4 354.8,94.8 362.9,93.2 367.7,94.8 371,94.8 377.4,91.6 383.9,87.6 388.7,85.2 389.5,82 392,81 395.2,80.3 392.7,85.2 391.1,87.6 396.8,89.2 403.2,90.8 409.7,94 414.5,90.8 422.6,89.2 425.8,91.6 432.3,94 435.5,96.5 440.3,97.3 433.9,98.6 429,99.4 425.8,99.4 419.4,101.6 414.5,102.4 410.5,104.2 406.5,108 404,112.6 399.2,119.8 398.4,122.3 403.2,118.2 407.3,111.8 408.5,108.5 404.8,116.6 402.4,126.3 401.6,136 401.6,145.6 403.2,155.3 405.6,161.8 408.9,163.4 414.5,161.8 418.5,155.3 419.4,145.6 416.9,136 416.1,129.5 416.9,119.8 421,113.4 421.8,110.2 422.6,116.6 425,113.4 427.4,105.3 427.7,102.9 432.9,103.5 442.6,106.1 444.5,111.9 444.5,119.7 443.2,124.8 441.3,128.7 442.6,131.3 445.8,130 451,124.8 454.2,128.7 456.1,135.2 456.8,141.6 453.5,146.8 451.6,154.5 451,158.4 456.1,160.3 461.3,161 466.5,158.4 472.9,155.8 479.4,150.6 487.1,145.5 492.3,139 494.8,133.9 494.2,130 498.7,127.4 500,126.8 506,125 513,121.5 519,117 520,110 523,104 529,98 537,95 545,92.5 563.9,84.5 568.7,78.7 570.2,69 571.6,61.3 575,49.2 576,50.6 579.4,52.1 584.7,48.2 589,50.2 591.5,54.5 592,59.4 593.9,65.2 594.8,68 598.7,69 602.6,73.4 605.5,77.7 602.6,80.7 598.7,83.6 594.8,86.5 590,85.5 588,90.3 584.2,96.1 582.5,100 579.5,105 578.4,111.9 577.4,118.7 578.4,124.5 582.3,128.4 584.2,130.3 581.3,132.3 578.4,134.2 575.5,136.1 568.7,139 561.9,142.9 556.1,146.8 553.7,150.7 552.3,155.5 552.7,161.3 553.2,167 551,172 549,175 543,173 540,172.5 540,179 545,184 547.5,187.5 546.5,196 543.5,205 542.5,208 545,215 546,222.5 547.5,225 545,235 542.5,244 536,246 530,252.5 521,261 515,272.5 505,282.5 497.5,292.5 495,307.5 496,317.5 502.5,327.5 510,342.5 516,355 521,370 520.5,385 511,386.5 502.5,375 492.5,365 485,355 485,342.5 480,335 470,327.5 460,325 450,330 440,325 429,324 422.5,326 414,324 405,327.5 397.5,330 395,335 399,339 402.5,344 397.5,341 390,340 382.5,344 375,342.5 370,337.5 360,339 345,337.5 332.5,340 325,346 312.5,354 302.5,362.5 296,372 297.5,385 299,392.5 287.5,390 277.5,385 270,370 262.5,355 257.5,346 250,337.5 240,335 232.5,340 226,345 220,340 212.5,335 210,327.5 205,320 199,311 194,304 189,302.5 187.5,300 169,301 167.5,305 157.5,304 142.5,297.5 132.5,300 115,290 100,280 92.5,275 75,271 67.5,267.5 65,260 60,252.5 54,244 42.5,236 34,230 31,222.5 29,210 25,200 25,187.5 24,177.5 19,170 16,160 17,150 15.5,141 19,130 22.5,118.8 24,112.5 30,100 37.5,87.5 41,70 44.5,62 46,49 44,38ZM554.2,152.6 559,150.7 567.8,145.8 568.7,147.3 562,151.6 555.2,154.5Z"/></g>
<g clip-path="url(#clip2)">
<path fill="#e29132" d="M0,770 620,770 620,1160 0,1160Z"/>
<path fill="#e0a735" d="M238,780 238,858 260,862 300,862 306,864 310,898 338.7,903.2 364.5,908.4 374.8,913.5 385.2,916.1 400.6,921.3 436.8,921.3 454.8,923.9 460,935 482,938 500,942 520,940 545,938 560,930 620,930 620,780ZM465,990 500,975 530,965 560,960 560,1000 530,1010 505,1015 480,1012ZM495,1105 505,1110 515,1140 505,1145 497,1125ZM50,840 80,838 110,840 118,842 135,838 150,845 160,860 160,880 100,880 80,890 55,880ZM159,864 208.5,866.8 211.3,899.7 216.8,927 175.6,924.4 156.5,919ZM120,785 160,800 175,830 170,860 140,860 118,830Z"/>
<path fill="#e3c03c" d="M271.6,817.4 304.5,817 310,834 285,834ZM338.7,831 351.6,825.8 374.8,833.5 385.2,843.9 436.8,851.6 434.2,859.4 411,862 395.5,869.7 377.4,867.1 364.5,869.7 351.6,856.8 338.7,843.9ZM403,866 425,864 444,870 446,885 420,885 405,880ZM482,925 498,905 510,895 525,890 548,893 556,905 552,920 540,935 520,937 500,937 486,938ZM118,842 135,838 150,845 154.5,870 140,878 120,875ZM162,817.4 178.4,820.2 192,839.4 183.9,858.5 167.4,861.3 156.5,844.8ZM140,800 155,805 160,830 150,845 140,830ZM60,850 90,848 100,865 80,875 62,870ZM70,905 95,910 110,930 95,945 75,930Z"/>
<path fill="#dcd65a" d="M480,905 498,898 512,890 528,886 547,886 556,900 562,912 620,912 620,780 470,780Z"/>
<path fill="#dfdc78" d="M504,934 509,937 496,960 482,982 466,1000 451,1011 447,1008 461,994 476,976 490,956ZM184.8,923.9 208,918.7 213.2,931.6 215.8,957.4 208,972.9 213.2,988.4 208,1003.9 212,1020 205,1040 196,1030 195.2,1003.9 184.8,978.1 177.1,967.7 187.4,952.3 184.8,936.8ZM162,869.5 181,866.8 184,880.5 181,894.2 184,905.2 173,908 164.7,899.7 160.6,886ZM192,869.5 203,869.5 205.8,883.2 197.6,883.2ZM148.7,923.9 156.5,926.5 161.6,947.1 151.3,967.7 133.2,967.7 143.5,952.3ZM43,786 66.8,785.2 77.1,795.5 87.4,803.2 82.3,813.5 74.5,818.7 69.4,831.6 61.6,839.4 51.3,849.7 48.7,862.6 43.5,872.9 34,885 30,905 33,940 38,965 10,965 10,786ZM51.4,921 59.8,937.7 68.2,958.7 66.1,979.7 59.8,969.2 53.5,946.1 49.4,931.4ZM125,990 140,992 161.6,1000 175,998 192,1005 192,1024 170,1020 150,1015 132,1010Z"/>
<path fill="#e37b30" d="M232,905 250,890 290,885 310,890 315,920 305,945 315,945 337.5,955 362.5,952.5 382.5,965 400,980 412.5,977.5 430,970 445,975 455,972.5 455,1012 478,1022 500,1045 492,1065 480,1075 440,1078 440,1100 300,1160 200,1100 215,1060 212,1020 213.2,988.4 208,972.9 215.8,957.4 213.2,931.6ZM195,835 230,840 235,870 210,870 195,855ZM82,811 100,808 108,820 105,837 90,837 80,825ZM60,893 98,890 125,898 148,920 140,960 125,985 100,970 70,960ZM155,925 175,928 180,970 165,985 150,975Z"/>
<path fill="#df662e" d="M240,990 300,985 332,1000 360,1010 385,1012 395,1040 400,1080 300,1160 200,1100 215,1060 218,1000ZM100,880 120,878 140,882 154.5,886 150,894 120,893 100,890ZM64,975 110,960 130,975 140,992 150,1010 165,1040 160,1060 60,1050 40,1000ZM175,1040 195,1045 200,1065 180,1065ZM80,915 110,930 115,955 90,960 75,940Z"/>
<path fill="#d4512b" d="M300,1030 320,1040 335,1060 335,1100 310,1125 295,1120 293,1099 303,1089 318,1076 312,1066 314,1057 310,1049ZM217,1000 232,994 248,1000 258,1018 245,1045 220,1058 214,1040ZM62,975 74.5,962 103.9,962 118,968 130,985 145,1010 158,1040 160,1060 90,1045 62,1000ZM32.6,900 41,900 43,916.8 49.4,937.7 57.7,954.5 61.9,969.2 57.7,983.9 49.4,986 41,979.7 36.8,962.9 34.7,941.9 32.6,921Z"/>
<path fill="#a52d25" d="M257.4,1017.6 267.9,1016.5 276.3,1021.8 286.8,1026 293,1032.3 301.4,1040.6 309.8,1049 314,1057.4 311.9,1065.8 318.2,1076.3 314,1084.7 303.5,1088.9 295.1,1093 293,1099.3 291,1109.8 293,1122.4 288.9,1135 272,1135 257.4,1099.3 246.9,1088.9 232.3,1086.8 217.6,1074.2 213.4,1061.6 219.7,1056.4 232.3,1051.1 234.4,1046.9 246.9,1046.9 253.2,1038.5 257.4,1028.1ZM43,958.7 51.4,956.6 53.5,967.1 55.6,983.9 47.3,986 43,969.2ZM62,980 80,968 118,970 122,990 135,1012 145,1040 140,1055 90,1040 70,1020Z"/>
<path fill="#d4512b" d="M249,1059.5 259.5,1054 274.2,1054 288.9,1055 297,1066 297.2,1076.3 293,1084.7 284.7,1088.9 272,1091 259.5,1088.9 251.1,1082.6 246.9,1072.1Z"/>
<path fill="#a52d25" d="M261.6,1063.7 274.2,1061.6 282.6,1067.9 276.3,1074.2 263.7,1072.1Z"/>
<path fill="#8c2421" d="M259.5,1099.3 274.2,1097.2 284.7,1103.5 288.9,1114 290,1140 272,1140 263.7,1114ZM217.6,1057.4 232.3,1059.5 238.5,1067.9 234.4,1074.2 219.7,1072.1ZM64,979.7 74.5,967.1 89.2,971.3 103.9,967.1 112.2,971.3 116.4,975.5 112.2,988 118.5,1000.6 131.1,1013.2 137.4,1025.8 142,1050 100,1040 78.7,1030 74.5,1009 68.2,996.4Z"/>
<path fill="#e3c03c" d="M117.5,984 126,983 134,995 140,1012 136,1022 128,1012 120,998ZM150,1014 165,1012 180,1018 190,1030 185,1036 170,1030 155,1028ZM140,1030 150,1035 158,1050 150,1052ZM28,960 36,962 44,982 52,995 62,1006 70,1016 76,1024 66,1030 50,1012 36,992 30,975Z"/>
</g>
<g transform="translate(0.08,758.2) scale(0.9926,0.9965)">
<path fill="#fff" stroke="#3a3a22" stroke-width="0.9" stroke-opacity="0.7" d="M62,39 64.5,35 65,42 62.5,48.5 58,50 57.5,48 61,45ZM536.5,182 535.5,190 537,200 540,207 541,207 538.5,199 537.5,190 537.5,183ZM387,329 393,327 395,331 389,333ZM23,176 27,178 28,183 25,184Z"/>
<path fill="none" stroke="#3a3a22" stroke-width="0.9" stroke-linejoin="round" d="M44.5,62.1 49.4,64.5 51.8,68.4 53.2,72.3 57.1,75.2 63.9,75.7 73.5,76.6 84.2,77.6 90,78.1 109,81M117.5,40.5 109,81M109,81 111,85 110,92.5 103.2,100 101.6,106.5 100,121 98,138M22.5,118.8 65.5,131 98,138 126.6,145.2 158.1,150M126,43 125,60 136,79 132.5,92.5 139.5,100 142.7,106.5 146,112.9 161.3,111.3 163.7,114.5 165.3,107.3M165.3,107.3 200,112.1 235,116M165.3,107.3 158.1,150 156.5,164.5 177.4,167.7 200,170.2 231,172.5 251,175M240,60 235,116 231,172.5M237.5,102.5 272,104 309,106M234,145 290,147.5 295,150 303,152 311,153.5 314,156M251,175 251,189 249,232.5M251,189 310,191 327.5,191M169,225 237.5,231 249,232.5 310,235 334,235M237.5,232 237.5,239 271,241 270,270 277.5,272.5 287.5,275 300,280 310,279 325,279 336,282.5M237.5,239 232.5,302.5 187.5,300M116.1,200 114,215 155,222.5 169,225M101,241 104,227.5 110,225 114,215M177.4,167.7 169,225M169,225 159,304M65.5,131 55,172.5 101,241M126.6,145.2 116.1,200M101,241 104,250 100,260 95,270 93.5,275M305,62.5 306,75 309,95 309.5,106 312.5,140.5 313,150 314,156M312.5,140.5 366,140M314,156 315,165 317.5,172 320,182.5 327.5,191 332.5,202.5 334,241M320,182.5 364,181 366,184M354.8,94.8 350,105 349,112.5 351,122.5 362.5,130 366,140M366,140 370,150 377.5,157.5 379,165 371,172.5 370,180 366,184 365,190 376,204 380,215 390,225 394.5,230.3 391.3,238.4 386.5,251.3 380,265.8 376,280 376,290 377.5,305 374.5,319 394,319 395,327.5M334,241 388.9,240 388,246.5 386.5,247M334,241 336,282.5 340,284 340,291M340,284 345,315 344,336M340,291 376,291M371,95 383,99 395,102.5 400,110 401,116M374,154 404,151M406.5,162.5 407.5,180 409.8,190 410.6,204.5 406.6,218.2 401,227.1 394.5,230.3M407.5,163.5 436,159 451,157M436,159 440.5,197.3M394.5,230.3 401,227.9 406.6,219.8 417.1,215.8 425.2,212.6 433.2,204.5 440.5,197.3 449.4,201.3 460.6,199.7 467.9,196.5 471.9,193.2 479,187.5 482.5,170 480,150M480,150 485,181M467.9,196.5 467.1,204.5 473.5,214.2 478.4,219M473.5,216.6 467.1,223.9 457.4,231.1M394.5,238.4 407.4,236.8 408.2,235.2 457.4,231.1 480,228.7 542.5,216M386.5,261 409,260.2 438,257.7 465.5,253.7 480,251.3M480,228.7 470.3,240 460.6,246.5 452.6,253.7M409,260.2 408.2,290 411,321M438,257.7 447.7,290 450,310 451,314M420,317.5 450,314 452.5,317.5 487.5,315 490,311 495,310M465.5,253.7 463.9,257.7 476.8,267.4 485,275 492.5,284 497.5,292.5M465.5,253.7 472.5,249 491,249 495,251 510,251 522.5,260M485,181 497.5,181 500,187.5 509,181 515,182.5 505,196 499,200 495,207.5 489,216 480,217.5 478.4,219M515,182.5 525,187.5 525,195 532.5,197.5M485,181 537.5,174 540,172.5M537.5,174 540,189 547,189M487.1,145.5 530,139 535.8,140 541.6,145.8 552.3,149.7M541.6,146.3 539.7,152.6 540.6,158.4 545.5,163.2 542.6,167.1 540,172.5M545,92.5 548.9,110 552.3,122.6 553.2,133.2 555.7,144.8M563.9,84.5 559,110 560,121.1M552.7,123.1 572.6,118.7 576,115.8M553.7,133.2 574.5,128.9M570.7,130.8 572.6,138.6M568.7,78.7 572,100 576,115.8"/>
<path fill="none" stroke="#3a3a22" stroke-width="0.8" stroke-opacity="0.8" d="M45,32.1 52,35.5 59,38.9 61.5,39.4 63.5,35 65.8,28.2 90,34 117.5,40.5 126,43 155,48.5 185,53 215,57 240,60 270,61.8 300,62.5 325,63.5 326,57.5 328,65 347.5,70 350,71.5 356.5,73 366,74.7 374.2,74.7 375.8,76.3 369.4,80.3 362.9,86 356.5,92.4 354.8,94.8 362.9,93.2 367.7,94.8 371,94.8 377.4,91.6 383.9,87.6 388.7,85.2 389.5,82 392,81 395.2,80.3 392.7,85.2 391.1,87.6 396.8,89.2 403.2,90.8 409.7,94 414.5,90.8 422.6,89.2 425.8,91.6 432.3,94 435.5,96.5 440.3,97.3 433.9,98.6 429,99.4 425.8,99.4 419.4,101.6 414.5,102.4 410.5,104.2 406.5,108 404,112.6 399.2,119.8 398.4,122.3 403.2,118.2 407.3,111.8 408.5,108.5 404.8,116.6 402.4,126.3 401.6,136 401.6,145.6 403.2,155.3 405.6,161.8 408.9,163.4 414.5,161.8 418.5,155.3 419.4,145.6 416.9,136 416.1,129.5 416.9,119.8 421,113.4 421.8,110.2 422.6,116.6 425,113.4 427.4,105.3 427.7,102.9 432.9,103.5 442.6,106.1 444.5,111.9 444.5,119.7 443.2,124.8 441.3,128.7 442.6,131.3 445.8,130 451,124.8 454.2,128.7 456.1,135.2 456.8,141.6 453.5,146.8 451.6,154.5 451,158.4 456.1,160.3 461.3,161 466.5,158.4 472.9,155.8 479.4,150.6 487.1,145.5 492.3,139 494.8,133.9 494.2,130 498.7,127.4 500,126.8 506,125 513,121.5 519,117 520,110 523,104 529,98 537,95 545,92.5 563.9,84.5 568.7,78.7 570.2,69 571.6,61.3 575,49.2 576,50.6 579.4,52.1 584.7,48.2 589,50.2 591.5,54.5 592,59.4 593.9,65.2 594.8,68 598.7,69 602.6,73.4 605.5,77.7 602.6,80.7 598.7,83.6 594.8,86.5 590,85.5 588,90.3 584.2,96.1 582.5,100 579.5,105 578.4,111.9 577.4,118.7 578.4,124.5 582.3,128.4 584.2,130.3 581.3,132.3 578.4,134.2 575.5,136.1 568.7,139 561.9,142.9 556.1,146.8 553.7,150.7 552.3,155.5 552.7,161.3 553.2,167 551,172 549,175 543,173 540,172.5 540,179 545,184 547.5,187.5 546.5,196 543.5,205 542.5,208 545,215 546,222.5 547.5,225 545,235 542.5,244 536,246 530,252.5 521,261 515,272.5 505,282.5 497.5,292.5 495,307.5 496,317.5 502.5,327.5 510,342.5 516,355 521,370 520.5,385 511,386.5 502.5,375 492.5,365 485,355 485,342.5 480,335 470,327.5 460,325 450,330 440,325 429,324 422.5,326 414,324 405,327.5 397.5,330 395,335 399,339 402.5,344 397.5,341 390,340 382.5,344 375,342.5 370,337.5 360,339 345,337.5 332.5,340 325,346 312.5,354 302.5,362.5 296,372 297.5,385 299,392.5 287.5,390 277.5,385 270,370 262.5,355 257.5,346 250,337.5 240,335 232.5,340 226,345 220,340 212.5,335 210,327.5 205,320 199,311 194,304 189,302.5 187.5,300 169,301 167.5,305 157.5,304 142.5,297.5 132.5,300 115,290 100,280 92.5,275 75,271 67.5,267.5 65,260 60,252.5 54,244 42.5,236 34,230 31,222.5 29,210 25,200 25,187.5 24,177.5 19,170 16,160 17,150 15.5,141 19,130 22.5,118.8 24,112.5 30,100 37.5,87.5 41,70 44.5,62 46,49 44,38ZM554.2,152.6 559,150.7 567.8,145.8 568.7,147.3 562,151.6 555.2,154.5Z"/>
</g>
<text class="t" x="12.3" y="22">Recent Past, 1961-1979</text>
<text class="t" x="12.6" y="396">Lower Emissions Scenario, 2080-2099</text>
<text class="t" x="12.6" y="776.8">Higher Emissions Scenario, 2080-2099</text>
<text x="288" y="1180.3" text-anchor="middle" style="font-family:'Liberation Sans',sans-serif;font-size:9.4px;font-weight:bold;fill:#333">Number of Days Above 100 ºF</text>
<rect x="187.20" y="1189" width="20.18" height="8.2" fill="#eee68b"/>
<rect x="207.38" y="1189" width="20.18" height="8.2" fill="#f6df3c"/>
<rect x="227.56" y="1189" width="20.18" height="8.2" fill="#f4c93f"/>
<rect x="247.74" y="1189" width="20.18" height="8.2" fill="#f5b33a"/>
<rect x="267.92" y="1189" width="20.18" height="8.2" fill="#f39c37"/>
<rect x="288.10" y="1189" width="20.18" height="8.2" fill="#f18532"/>
<rect x="308.28" y="1189" width="20.18" height="8.2" fill="#ee6f33"/>
<rect x="328.46" y="1189" width="20.18" height="8.2" fill="#e8573c"/>
<rect x="348.64" y="1189" width="20.18" height="8.2" fill="#c5322f"/>
<rect x="368.82" y="1189" width="20.18" height="8.2" fill="#9f302e"/>
<path fill="none" stroke="#8a7a50" stroke-width="0.6" d="M187.20,1189V1197.2M207.38,1189V1197.2M227.56,1189V1197.2M247.74,1189V1197.2M267.92,1189V1197.2M288.10,1189V1197.2M308.28,1189V1197.2M328.46,1189V1197.2M348.64,1189V1197.2M368.82,1189V1197.2M389.00,1189V1197.2"/>
<rect x="187.2" y="1189" width="201.8" height="8.2" fill="none" stroke="#8a7a50" stroke-width="0.6"/>
<g class="l">
<text x="196.5" y="1210.7">&lt;10</text>
<text x="222.2" y="1210.7">20</text>
<text x="241.5" y="1210.7">30</text>
<text x="262.3" y="1210.7">45</text>
<text x="280.6" y="1210.7">60</text>
<text x="300.9" y="1210.7">75</text>
<text x="322.2" y="1210.7">90</text>
<text x="339" y="1210.7">105</text>
<text x="358.4" y="1210.7">&gt;120</text>
</g>
</svg>
</body></html>
